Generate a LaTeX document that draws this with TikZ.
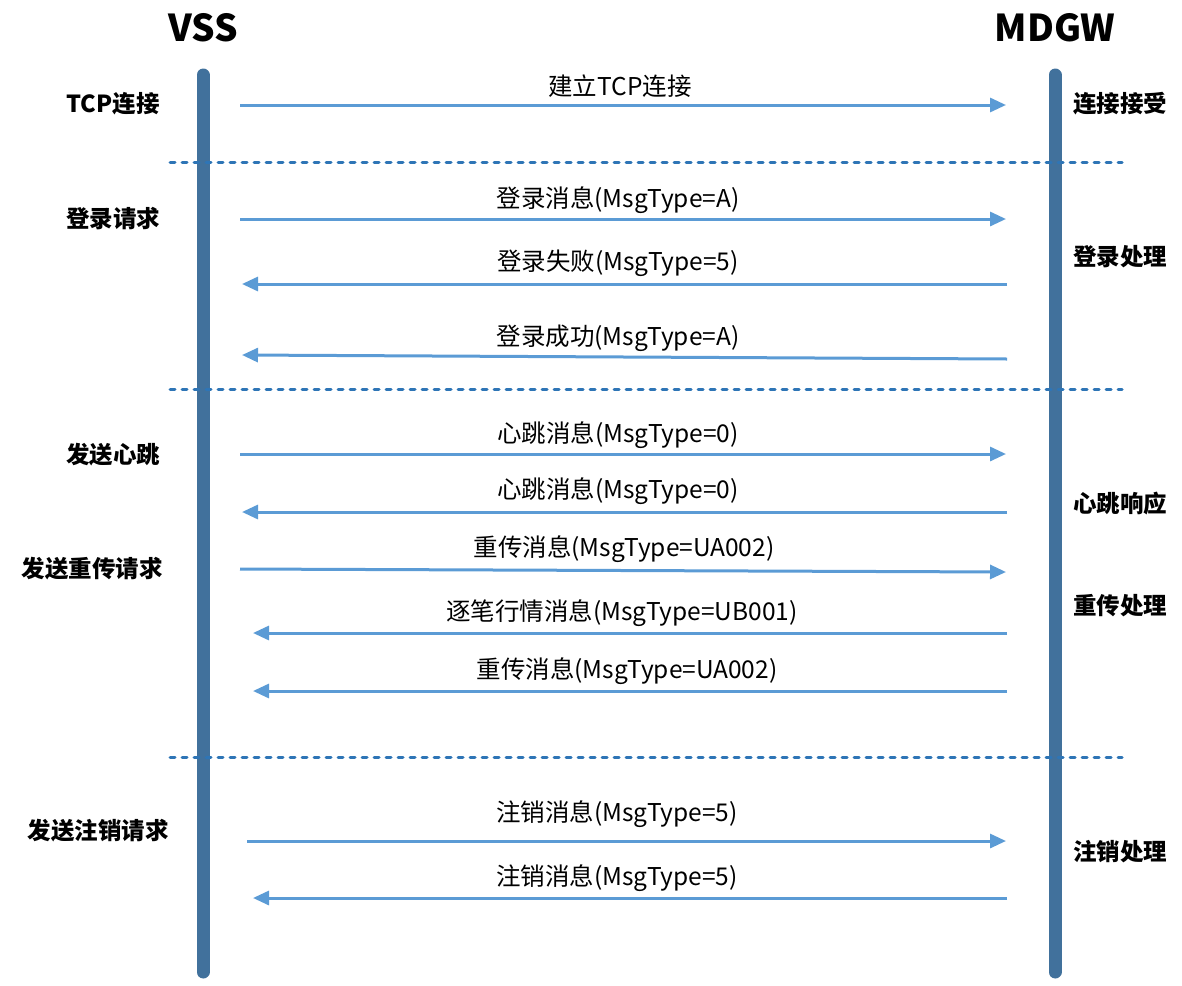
\documentclass[tikz,border=0pt]{standalone}
\usepackage{fontspec}
\setmainfont{Noto Sans CJK SC}
\usetikzlibrary{arrows.meta}
\definecolor{lifeblue}{HTML}{41719C}
\definecolor{msgblue}{HTML}{5B9BD5}
\definecolor{sepblue}{HTML}{2E75B6}
\tikzset{
  lifeline/.style={line width=13pt,lifeblue,line cap=round},
  msg/.style={line width=3pt,msgblue,-{Triangle[length=16pt,width=14pt]}},
  sep/.style={line width=3pt,sepblue,dash pattern=on 5pt off 7pt,line cap=round},
  msglabel/.style={font=\fontsize{24.5pt}{28pt}\selectfont,inner sep=0pt},
  sidelabel/.style={font=\fontsize{23.5pt}{27pt}\selectfont\bfseries,inner sep=0pt},
  title/.style={font=\fontsize{37pt}{44pt}\selectfont\bfseries,inner sep=0pt}
}
\begin{document}
\begin{tikzpicture}[x=1pt,y=-1pt]
\useasboundingbox (0,0) rectangle (1182,985);
% titles
\node[title] (vss) at (203,28) {VSS};
\node[title] (mdgw) at (1055,28) {MDGW};
% lifelines
\coordinate (vtop) at (203,75);
\coordinate (vbot) at (203,972);
\coordinate (mtop) at (1055,75);
\coordinate (mbot) at (1055,972);
\draw[lifeline] (vtop) -- (vbot);
\draw[lifeline] (mtop) -- (mbot);
% separators
\coordinate (s1a) at (170,162); \coordinate (s1b) at (1122,162);
\coordinate (s2a) at (170,389); \coordinate (s2b) at (1122,389);
\coordinate (s3a) at (170,757); \coordinate (s3b) at (1122,757);
\draw[sep] (s1a) -- (s1b);
\draw[sep] (s2a) -- (s2b);
\draw[sep] (s3a) -- (s3b);
% messages
\coordinate (a1s) at (240,105); \coordinate (a1e) at (1006,105);
\draw[msg] (a1s) -- (a1e);
\node[msglabel] (l1) at (620,86) {建立TCP连接};
\coordinate (a2s) at (240,219); \coordinate (a2e) at (1006,219);
\draw[msg] (a2s) -- (a2e);
\node[msglabel] (l2) at (618,200) {登录消息(MsgType=A)};
\coordinate (a3s) at (1007,284); \coordinate (a3e) at (242,284);
\draw[msg] (a3s) -- (a3e);
\node[msglabel] (l3) at (618,263) {登录失败(MsgType=5)};
\coordinate (a4s) at (1007,359); \coordinate (a4e) at (242,355);
\draw[msg] (a4s) -- (a4e);
\node[msglabel] (l4) at (618,338) {登录成功(MsgType=A)};
\coordinate (a5s) at (240,454); \coordinate (a5e) at (1006,454);
\draw[msg] (a5s) -- (a5e);
\node[msglabel] (l5) at (618,435) {心跳消息(MsgType=0)};
\coordinate (a6s) at (1007,512); \coordinate (a6e) at (242,512);
\draw[msg] (a6s) -- (a6e);
\node[msglabel] (l6) at (618,491) {心跳消息(MsgType=0)};
\coordinate (a7s) at (240,569); \coordinate (a7e) at (1006,572);
\draw[msg] (a7s) -- (a7e);
\node[msglabel] (l7) at (624,549) {重传消息(MsgType=UA002)};
\coordinate (a8s) at (1007,633); \coordinate (a8e) at (253,633);
\draw[msg] (a8s) -- (a8e);
\node[msglabel] (l8) at (622,613) {逐笔行情消息(MsgType=UB001)};
\coordinate (a9s) at (1007,691); \coordinate (a9e) at (253,691);
\draw[msg] (a9s) -- (a9e);
\node[msglabel] (l9) at (627,671) {重传消息(MsgType=UA002)};
\coordinate (a10s) at (247,841); \coordinate (a10e) at (1006,841);
\draw[msg] (a10s) -- (a10e);
\node[msglabel] (l10) at (617,814) {注销消息(MsgType=5)};
\coordinate (a11s) at (1007,898); \coordinate (a11e) at (253,898);
\draw[msg] (a11s) -- (a11e);
\node[msglabel] (l11) at (617,878) {注销消息(MsgType=5)};
% left side labels
\node[sidelabel] (sl1) at (113,104) {TCP连接};
\node[sidelabel] (sl2) at (113,219) {登录请求};
\node[sidelabel] (sl3) at (113,455) {发送心跳};
\node[sidelabel] (sl4) at (92,569) {发送重传请求};
\node[sidelabel] (sl5) at (98,831) {发送注销请求};
% right side labels
\node[sidelabel] (sr1) at (1120,104) {连接接受};
\node[sidelabel] (sr2) at (1120,257) {登录处理};
\node[sidelabel] (sr3) at (1120,504) {心跳响应};
\node[sidelabel] (sr4) at (1120,606) {重传处理};
\node[sidelabel] (sr5) at (1120,852) {注销处理};
\end{tikzpicture}
\end{document}
